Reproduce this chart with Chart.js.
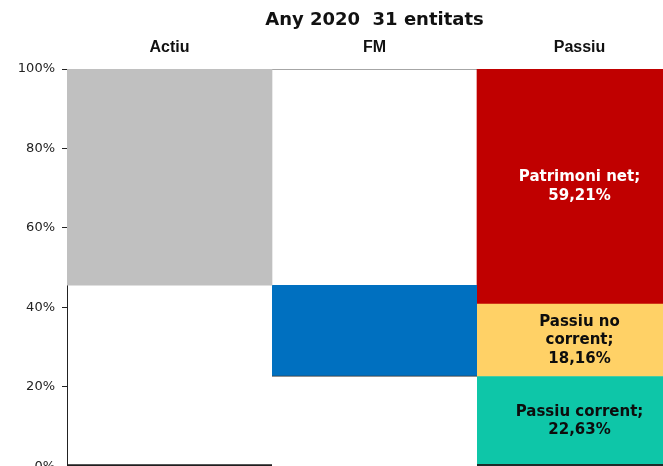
<!DOCTYPE html>
<html>
<head>
<meta charset="utf-8">
<script src="https://cdn.jsdelivr.net/npm/chart.js@4"></script>
<style>
  html, body { margin: 0; padding: 0; background: #fff; overflow: hidden; }
  #wrap { position: relative; width: 682px; height: 481px; }
</style>
</head>
<body>
<div id="wrap"><canvas id="myChart"></canvas></div>
<script>
const title = 'Any 2020  31 entitats';
const categories = ['Actiu', 'FM', 'Passiu'];

// percentages of total balance
const actiuCorrent    = [45.60, null, null];
const actiuNoCorrent  = [54.40, null, null];
const fmBase          = [null, 22.63, null];
const fonsManiobra    = [null, 22.97, null];
const passiuCorrent   = [null, null, 22.63];
const passiuNoCorrent = [null, null, 18.16];
const patrimoniNet    = [null, null, 59.21];

const yTicks = [0, 20, 40, 60, 80, 100];

const none = 'rgba(0,0,0,0)';

function seg(label, values, color, extra) {
    return Object.assign({
        label: label,
        data: values,
        backgroundColor: color,
        borderWidth: 0,
        categoryPercentage: 1,
        barPercentage: 1
    }, extra || {});
}

const data = {
    labels: categories,
    datasets: [
        seg('Actiu corrent', actiuCorrent, none, {
            borderColor: '#1f1f1f', borderSkipped: false,
            borderWidth: {top: 0, left: 0, right: 0, bottom: 1}
        }),
        seg('Actiu no corrent', actiuNoCorrent, '#C0C0C0'),
        seg('base FM', fmBase, none),
        seg('FM', fonsManiobra, '#0070C0', {
            borderColor: '#3a3a3a', borderSkipped: false,
            borderWidth: {top: 0, left: 0, right: 0, bottom: 1}
        }),
        seg('Passiu corrent', passiuCorrent, '#0EC6A8', {
            borderColor: '#1d2b29', borderSkipped: false,
            borderWidth: {top: 0, left: 0, right: 0, bottom: 2},
            showValue: true, valueColor: '#0d0d0d'
        }),
        seg('Passiu no corrent', passiuNoCorrent, '#FFD166', {
            showValue: true, valueColor: '#0d0d0d'
        }),
        seg('Patrimoni net', patrimoniNet, '#C00000', {
            showValue: true, valueColor: '#ffffff'
        })
    ]
};

// "name; 12,34%" labels in the middle of each passiu block
const segmentLabels = {
    id: 'segmentLabels',
    afterDatasetsDraw(chart) {
        const ctx = chart.ctx;
        ctx.save();
        ctx.font = 'bold 15px "DejaVu Sans"';
        ctx.textAlign = 'center';
        ctx.textBaseline = 'middle';
        const lineH = 18.5;
        chart.data.datasets.forEach((ds, i) => {
            if (!ds.showValue) return;
            const meta = chart.getDatasetMeta(i);
            ds.data.forEach((v, j) => {
                if (v == null) return;
                const el = meta.data[j];
                const words = (ds.label + ';').split(' ');
                const lines = [];
                let cur = '';
                words.forEach(w => {
                    const t = cur ? cur + ' ' + w : w;
                    if (cur && ctx.measureText(t).width > 140) {
                        lines.push(cur);
                        cur = w;
                    } else {
                        cur = t;
                    }
                });
                lines.push(cur);
                lines.push(v.toFixed(2).replace('.', ',') + '%');
                const cy = (el.y + el.base) / 2;
                const y0 = cy - (lines.length - 1) * lineH / 2;
                ctx.fillStyle = ds.valueColor;
                lines.forEach((l, k) => ctx.fillText(l, el.x, y0 + k * lineH));
            });
        });
        ctx.restore();
    }
};

const config = {
    type: 'bar',
    data: data,
    options: {
        responsive: true,
        maintainAspectRatio: false,
        animation: false,
        layout: { padding: 0 },
        plugins: {
            legend: { display: false },
            tooltip: { enabled: false }
        },
        scales: {
            x: {
                position: 'top',
                stacked: true,
                grid: { display: false, drawTicks: false },
                border: { display: true, color: '#A6A6A6', width: 1 },
                ticks: {
                    color: '#111',
                    padding: 12,
                    font: { family: '"Liberation Sans"', size: 16, weight: 'bold' }
                },
                title: {
                    display: true,
                    text: title,
                    color: '#111',
                    padding: { top: 10, bottom: 0 },
                    font: { family: '"DejaVu Sans"', size: 18, weight: 'bold' }
                },
                afterFit(scale) { scale.height = 69; }
            },
            y: {
                stacked: true,
                min: 0,
                max: 100,
                afterBuildTicks(scale) { scale.ticks = yTicks.map(v => ({ value: v })); },
                grid: {
                    display: true,
                    drawOnChartArea: false,
                    drawTicks: true,
                    tickLength: 5,
                    color: '#222'
                },
                border: { display: true, color: '#222', width: 1 },
                ticks: {
                    color: '#222',
                    padding: 7,
                    font: { family: '"DejaVu Sans"', size: 13 },
                    callback: v => v + '%'
                },
                afterFit(scale) { scale.width = 67; }
            }
        }
    },
    plugins: [segmentLabels]
};

const myChart = new Chart(
    document.getElementById('myChart'),
    config
);
</script>
</body>
</html>
